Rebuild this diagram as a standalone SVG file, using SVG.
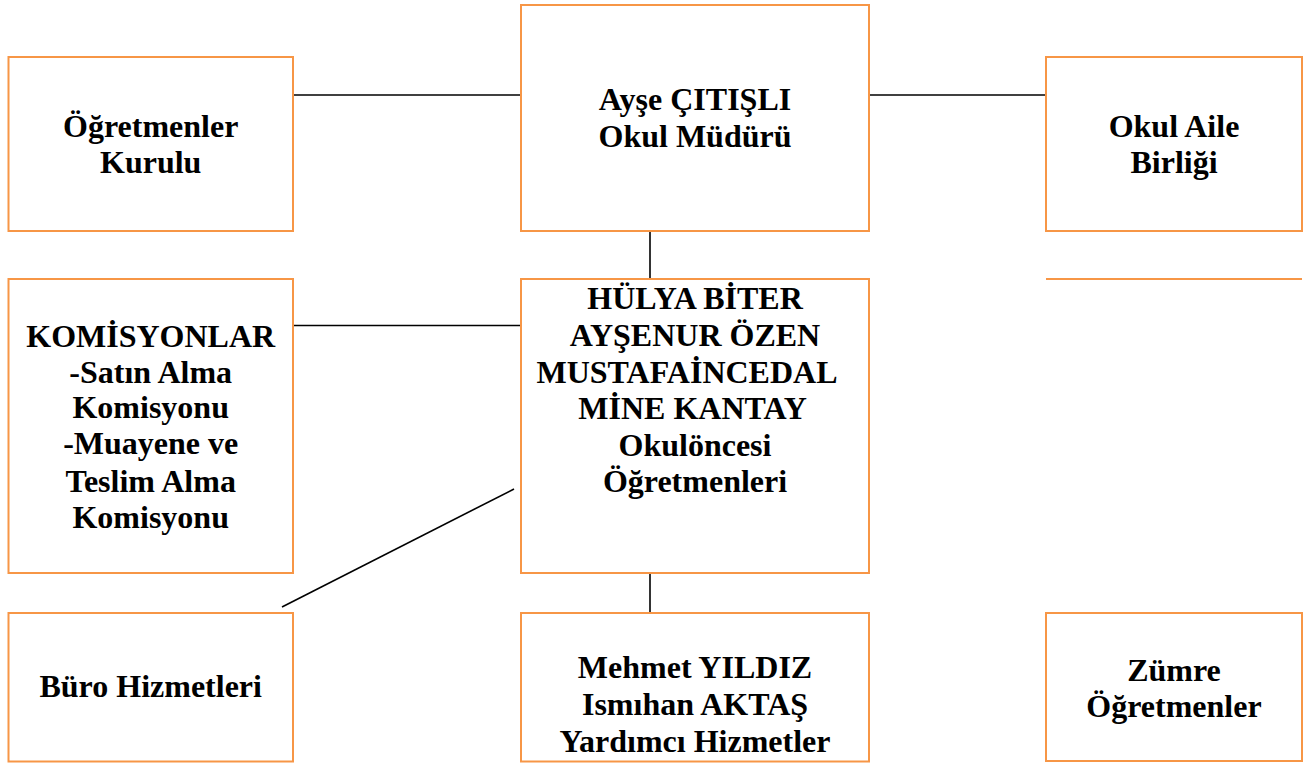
<svg xmlns="http://www.w3.org/2000/svg" width="1308" height="763" viewBox="0 0 1308 763">
<style>
.box{fill:#ffffff;stroke:#F79646;stroke-width:2}
.con{stroke:#000000;stroke-width:1.6;fill:none}
.t{font-family:"Liberation Serif","Times New Roman",serif;font-weight:bold;font-size:32px;fill:#000000;text-anchor:middle}
</style>
<rect width="1308" height="763" fill="#ffffff"/>
<g id="connectors">
<line class="con" x1="293" y1="95" x2="521" y2="95"/>
<line class="con" x1="869" y1="95" x2="1046" y2="95"/>
<line class="con" x1="650" y1="231" x2="650" y2="279"/>
<line class="con" x1="293" y1="325.5" x2="521" y2="325.5"/>
<line class="con" x1="514" y1="489" x2="282" y2="607"/>
<line class="con" x1="650" y1="573" x2="650" y2="613"/>
</g>
<g id="ogretmenler-kurulu">
<rect class="box" x="8.5" y="57" width="284.5" height="174"/>
<text class="t" x="150.7" y="137">Öğretmenler</text>
<text class="t" x="150.7" y="173">Kurulu</text>
</g>
<g id="okul-muduru">
<rect class="box" x="521" y="5" width="348" height="226"/>
<text class="t" x="695" y="110">Ayşe ÇITIŞLI</text>
<text class="t" x="695" y="147">Okul Müdürü</text>
</g>
<g id="okul-aile-birligi">
<rect class="box" x="1046" y="57" width="256" height="174"/>
<text class="t" x="1174" y="136.5">Okul Aile</text>
<text class="t" x="1174" y="173">Birliği</text>
</g>
<g id="orange-line">
<line x1="1046" y1="279" x2="1302" y2="279" stroke="#F79646" stroke-width="2"/>
</g>
<g id="ogretmenler">
<rect class="box" x="521" y="279" width="348" height="294"/>
<text class="t" x="695" y="309">HÜLYA BİTER</text>
<text class="t" x="695" y="346">AYŞENUR ÖZEN</text>
<text class="t" x="687" y="382.5">MUSTAFAİNCEDAL</text>
<text class="t" x="692.5" y="419">MİNE KANTAY</text>
<text class="t" x="695" y="456">Okulöncesi</text>
<text class="t" x="695" y="491.5">Öğretmenleri</text>
</g>
<g id="komisyonlar">
<rect class="box" x="8.5" y="279" width="284.5" height="294"/>
<text class="t" x="150.7" y="347">KOMİSYONLAR</text>
<text class="t" x="150.7" y="382.5">-Satın Alma</text>
<text class="t" x="150.7" y="418">Komisyonu</text>
<text class="t" x="150.7" y="453.5">-Muayene ve</text>
<text class="t" x="150.7" y="491.5">Teslim Alma</text>
<text class="t" x="150.7" y="528">Komisyonu</text>
</g>
<g id="buro-hizmetleri">
<rect class="box" x="8.5" y="613" width="284.5" height="148.5"/>
<text class="t" x="150.7" y="697">Büro Hizmetleri</text>
</g>
<g id="yardimci-hizmetler">
<rect class="box" x="521" y="613" width="348" height="148.5"/>
<text class="t" x="695" y="678">Mehmet YILDIZ</text>
<text class="t" x="695" y="715">Ismıhan AKTAŞ</text>
<text class="t" x="695" y="751.5">Yardımcı Hizmetler</text>
</g>
<g id="zumre-ogretmenler">
<rect class="box" x="1046" y="613" width="256" height="148"/>
<text class="t" x="1174" y="681">Zümre</text>
<text class="t" x="1174" y="716.5">Öğretmenler</text>
</g>
</svg>
